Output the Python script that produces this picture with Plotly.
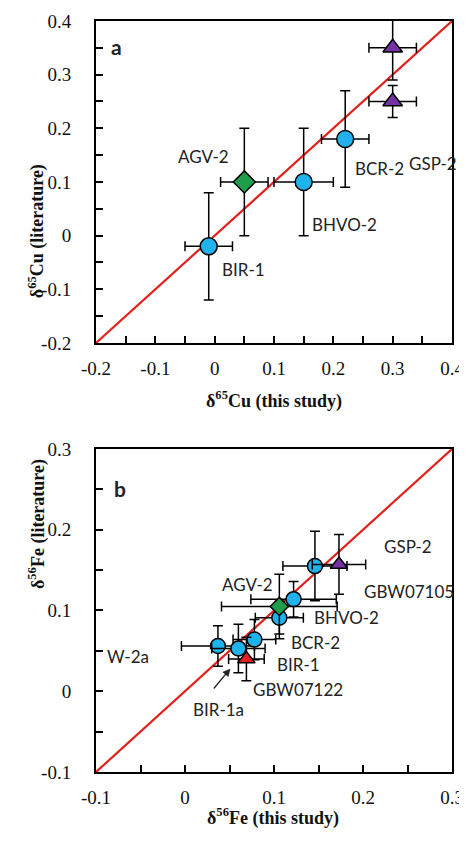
import plotly.graph_objects as go

# ---------------- Panel a : Cu ----------------
cu_samples = ["BIR-1", "AGV-2", "BHVO-2", "BCR-2", "GSP-2", "GSP-2"]
cu_kind = ["circle", "diamond", "circle", "circle", "triangle", "triangle"]
cu_this = [-0.01, 0.05, 0.15, 0.22, 0.30, 0.30]
cu_this_err = [0.04, 0.04, 0.05, 0.04, 0.04, 0.04]
cu_lit = [-0.02, 0.10, 0.10, 0.18, 0.35, 0.25]
cu_lit_err = [0.10, 0.10, 0.10, 0.09, 0.06, 0.03]

cu_label_text = ["BIR-1", "AGV-2", "BHVO-2", "BCR-2", "GSP-2"]
cu_label_x = [0.048, -0.019, 0.219, 0.278, 0.368]
cu_label_y = [-0.064, 0.147, 0.02, 0.126, 0.134]

cu_axis_range = [-0.2, 0.4]
cu_tickvals = [-0.2, -0.15, -0.1, -0.05, 0, 0.05, 0.1, 0.15, 0.2, 0.25, 0.3, 0.35, 0.4]
cu_ticktext = ["-0.2", " ", "-0.1", " ", "0", " ", "0.1", " ", "0.2", " ", "0.3", " ", "0.4"]

# ---------------- Panel b : Fe ----------------
fe_samples = ["W-2a", "BIR-1a", "BIR-1", "BCR-2", "BHVO-2", "GBW07105",
              "AGV-2", "GBW07122", "GSP-2"]
fe_kind = ["circle", "circle", "circle", "circle", "circle", "circle",
           "diamond", "triangle_red", "triangle"]
fe_this = [0.037, 0.060, 0.078, 0.106, 0.122, 0.146, 0.106, 0.069, 0.173]
fe_this_err = [0.041, 0.03, 0.024, 0.027, 0.048, 0.036, 0.065, 0.02, 0.03]
fe_lit = [0.056, 0.053, 0.064, 0.091, 0.114, 0.155, 0.105, 0.040, 0.157]
fe_lit_err = [0.025, 0.03, 0.025, 0.02, 0.022, 0.043, 0.04, 0.027, 0.037]

fe_label_text = ["W-2a", "BIR-1", "BCR-2", "BHVO-2", "AGV-2", "GBW07122",
                 "GSP-2", "GBW07105", "BIR-1a"]
fe_label_x = [-0.0635, 0.128, 0.147, 0.181, 0.070, 0.1265, 0.251, 0.252, 0.0375]
fe_label_y = [0.0436, 0.033, 0.06, 0.091, 0.132, 0.0025, 0.179, 0.1235, -0.022]
fe_arrow_tail = [0.029, -0.001]
fe_arrow_head = [0.051, 0.028]

fe_axis_range = [-0.1, 0.3]
fe_tickvals = [-0.1, -0.05, 0, 0.05, 0.1, 0.15, 0.2, 0.25, 0.3]
fe_ticktext = ["-0.1", " ", "0", " ", "0.1", " ", "0.2", " ", "0.3"]

# ---------------- styles ----------------
STYLE = {
    "circle": dict(symbol="circle", color="#1FB2EC"),
    "diamond": dict(symbol="diamond", color="#1E9E4A"),
    "triangle": dict(symbol="triangle-up", color="#7432A3"),
    "triangle_red": dict(symbol="triangle-up", color="#E5211F"),
}
SIZES_A = {"circle": 17, "diamond": 17, "triangle": 17, "triangle_red": 17}
SIZES_B = {"circle": 15, "diamond": 14, "triangle": 15, "triangle_red": 15}
LINE_RED = "#E3211C"

fig = go.Figure()

# 1:1 lines
fig.add_trace(go.Scatter(x=cu_axis_range, y=cu_axis_range, mode="lines",
                         line=dict(color=LINE_RED, width=2.2), xaxis="x", yaxis="y",
                         showlegend=False, hoverinfo="skip"))
fig.add_trace(go.Scatter(x=fe_axis_range, y=fe_axis_range, mode="lines",
                         line=dict(color=LINE_RED, width=2.2), xaxis="x2", yaxis="y2",
                         showlegend=False, hoverinfo="skip"))

def add_points(xs, xe, ys, ye, kinds, sizes, xa, ya):
    order = ["circle", "diamond", "triangle_red", "triangle"]
    for k in order:
        for i in range(len(xs)):
            if kinds[i] != k:
                continue
            st = STYLE[k]
            fig.add_trace(go.Scatter(
                x=[xs[i]], y=[ys[i]], mode="markers", xaxis=xa, yaxis=ya,
                marker=dict(symbol=st["symbol"], color=st["color"], size=sizes[k],
                            line=dict(color="black", width=1.5)),
                error_x=dict(type="data", array=[xe[i]], color="black",
                             thickness=1.5, width=5),
                error_y=dict(type="data", array=[ye[i]], color="black",
                             thickness=1.5, width=5),
                showlegend=False))

add_points(cu_this, cu_this_err, cu_lit, cu_lit_err, cu_kind, SIZES_A, "x", "y")
add_points(fe_this, fe_this_err, fe_lit, fe_lit_err, fe_kind, SIZES_B, "x2", "y2")

LABEL_FONT = dict(family="Lato, Carlito, sans-serif", size=17, color="#222")
annotations = []
for t, x, y in zip(cu_label_text, cu_label_x, cu_label_y):
    annotations.append(dict(text=t, x=x, y=y, xref="x", yref="y",
                            showarrow=False, font=LABEL_FONT))
for t, x, y in zip(fe_label_text, fe_label_x, fe_label_y):
    annotations.append(dict(text=t, x=x, y=y, xref="x2", yref="y2",
                            showarrow=False, font=LABEL_FONT))
annotations.append(dict(text=" ", x=fe_arrow_head[0], y=fe_arrow_head[1],
                        ax=fe_arrow_tail[0], ay=fe_arrow_tail[1],
                        xref="x2", yref="y2", axref="x2", ayref="y2",
                        showarrow=True, arrowhead=2, arrowsize=1.2,
                        arrowwidth=1.3, arrowcolor="#222"))
PANEL_FONT = dict(family="Lato, sans-serif", size=21, color="#222")
annotations.append(dict(text="<b>a</b>", x=-0.165, y=0.353, xref="x", yref="y",
                        showarrow=False, font=PANEL_FONT))
annotations.append(dict(text="<b>b</b>", x=-0.0727, y=0.2515, xref="x2", yref="y2",
                        showarrow=False, font=PANEL_FONT))

TITLE_FONT = dict(family="Liberation Serif, Times New Roman, serif", size=18, color="#111")
annotations += [
    dict(text="<b>δ<sup>65</sup>Cu (this study)</b>", x=0.5, y=0.495,
         xref="paper", yref="paper", showarrow=False, font=TITLE_FONT),
    dict(text="<b>δ<sup>56</sup>Fe (this study)</b>", x=0.496, y=-0.0786,
         xref="paper", yref="paper", showarrow=False, font=TITLE_FONT),
    dict(text="<b>δ<sup>65</sup>Cu (literature)</b>", x=-0.205, y=0.812,
         xref="paper", yref="paper", showarrow=False, textangle=-90, font=TITLE_FONT),
    dict(text="<b>δ<sup>56</sup>Fe (literature)</b>", x=-0.205, y=0.241,
         xref="paper", yref="paper", showarrow=False, textangle=-90, font=TITLE_FONT),
]

TICK_FONT = dict(family="Liberation Serif, Times New Roman, serif", size=19, color="#111")
PAD = "\u2002"

def axis(rng, tv, tt, domain, anchor, is_y):
    if is_y:
        tt = [t + PAD + PAD if t.strip() else t for t in tt]
    d = dict(range=rng, domain=domain, anchor=anchor,
             tickmode="array", tickvals=tv, ticktext=tt,
             ticks="inside", ticklen=7, tickwidth=2, tickcolor="black",
             showline=True, linewidth=2, linecolor="black", mirror=True,
             showgrid=False, zeroline=False, tickfont=TICK_FONT,
             layer="above traces")
    if not is_y:
        d["ticklabelstandoff"] = 7
    return d

# the page body adds an 8px offset, so the figure is 8px smaller than the window
fig.update_layout(
    template="none",
    width=459, height=835,
    margin=dict(l=88, r=15, t=13, b=71),
    plot_bgcolor="white", paper_bgcolor="white",
    showlegend=False,
    xaxis=axis(cu_axis_range, cu_tickvals, cu_ticktext, [0, 1], "y", False),
    yaxis=axis(cu_axis_range, cu_tickvals, cu_ticktext, [0.5713, 1], "x", True),
    xaxis2=axis(fe_axis_range, fe_tickvals, fe_ticktext, [0, 1], "y2", False),
    yaxis2=axis(fe_axis_range, fe_tickvals, fe_ticktext, [0, 0.4301], "x2", True),
    annotations=annotations,
)

fig.write_html("out.html")
